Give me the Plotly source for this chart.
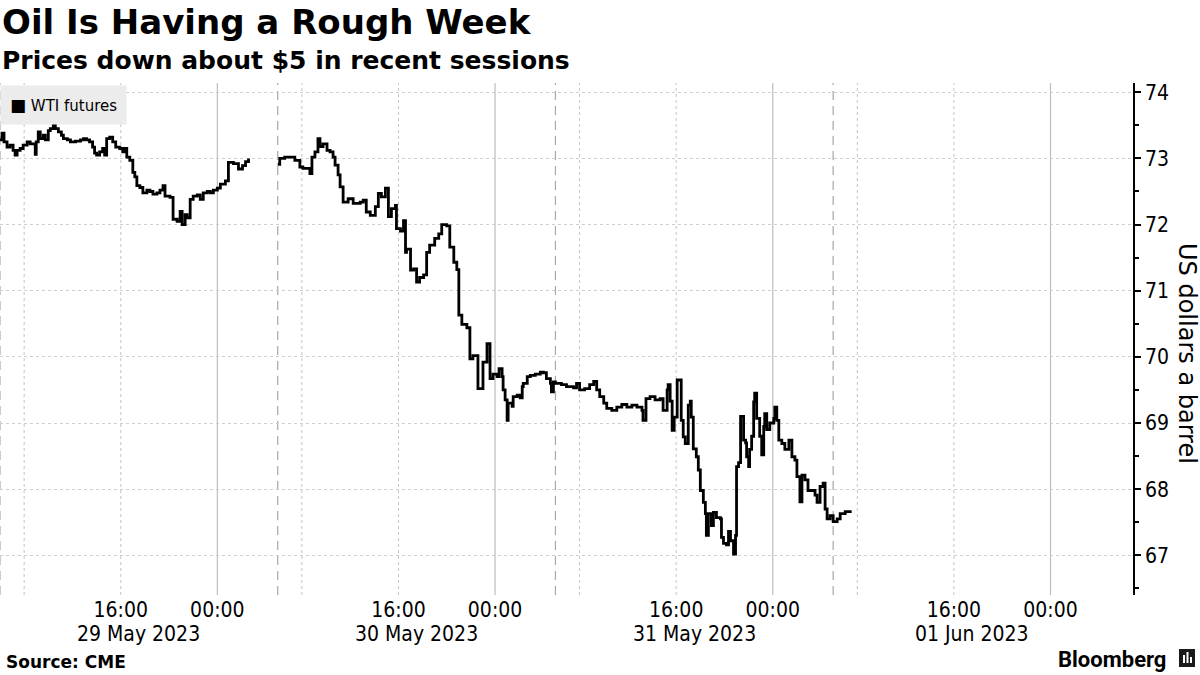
import pandas as pd
import plotly.graph_objects as go

# ---------------- data ----------------
# Trading sessions (Hong Kong time), each opening at 06:00 and running 23 hours
session_dates = ["2023-05-29", "2023-05-30", "2023-05-31", "2023-06-01"]
date_labels = ["29 May 2023", "30 May 2023", "31 May 2023", "01 Jun 2023"]

# minutes after session open, WTI futures price (USD/bbl)
s1_minutes = [0, 10, 20, 35, 50, 65, 75, 85, 100, 115, 135, 150, 165, 175, 180, 190, 200, 215,
              225, 240, 250, 265, 275, 290, 305, 315, 335, 350, 375, 400, 415, 430, 445, 460,
              470, 480, 495, 510, 520, 530, 545, 560, 575, 595, 610, 620, 630, 645, 660, 670,
              680, 695, 710, 730, 745, 760, 780, 795, 810, 820, 845, 860, 880, 895, 905, 920,
              930, 945, 960, 980, 995, 1010, 1030, 1045, 1060, 1080, 1095, 1120, 1135, 1160,
              1185, 1205, 1220, 1235]
s1_price = [73.28, 73.38, 73.25, 73.17, 73.20, 73.12, 73.05, 73.12, 73.15, 73.20, 73.25, 73.22,
            73.22, 73.06, 73.25, 73.40, 73.30, 73.35, 73.28, 73.42, 73.45, 73.50, 73.45, 73.40,
            73.35, 73.30, 73.28, 73.25, 73.26, 73.28, 73.30, 73.28, 73.25, 73.17, 73.08, 73.05,
            73.10, 73.15, 73.05, 73.30, 73.32, 73.25, 73.17, 73.15, 73.10, 73.15, 73.02, 72.97,
            72.79, 72.72, 72.59, 72.56, 72.48, 72.52, 72.50, 72.46, 72.48, 72.52, 72.59, 72.43,
            72.41, 72.08, 72.05, 72.20, 72.00, 72.15, 72.10, 72.38, 72.43, 72.45, 72.38, 72.48,
            72.50, 72.48, 72.52, 72.55, 72.61, 72.66, 72.94, 72.92, 72.84, 72.89, 72.95, 73.00]

s2_minutes = [0, 10, 35, 60, 85, 110, 125, 145, 160, 170, 185, 200, 210, 225, 245, 260, 275,
              285, 300, 310, 325, 350, 375, 390, 410, 425, 440, 460, 485, 500, 515, 535, 550,
              565, 585, 590, 610, 625, 635, 640, 660, 675, 690, 705, 725, 740, 755, 780, 800,
              815, 840, 855, 875, 890, 900, 915, 940, 955, 970, 995, 1020, 1040, 1055, 1070,
              1090, 1100, 1115, 1120, 1130, 1140, 1145, 1165, 1170, 1190, 1205, 1215, 1220,
              1240, 1255, 1280, 1305, 1320, 1335, 1355, 1360, 1370]
s2_price = [72.91, 73.00, 73.02, 73.02, 72.97, 72.87, 72.85, 72.85, 72.77, 73.02, 73.10, 73.30,
            73.18, 73.22, 73.12, 73.10, 73.02, 72.90, 72.75, 72.57, 72.34, 72.39, 72.32, 72.32,
            72.34, 72.37, 72.19, 72.14, 72.27, 72.47, 72.42, 72.55, 72.12, 72.24, 72.29, 71.94,
            71.90, 72.06, 71.58, 71.63, 71.31, 71.33, 71.13, 71.20, 71.24, 71.58, 71.69, 71.79,
            71.86, 72.00, 71.98, 71.66, 71.43, 71.32, 70.63, 70.49, 70.44, 69.97, 70.02, 69.52,
            69.92, 70.20, 69.67, 69.74, 69.70, 69.82, 69.70, 69.50, 69.35, 69.04, 69.30, 69.25,
            69.40, 69.42, 69.38, 69.55, 69.60, 69.70, 69.72, 69.74, 69.77, 69.76, 69.67, 69.60,
            69.47, 69.62]

s3_minutes = [0, 5, 30, 55, 90, 105, 120, 145, 170, 190, 205, 220, 240, 255, 280, 305, 330,
              355, 380, 405, 430, 435, 450, 470, 495, 520, 535, 555, 560, 570, 580, 590, 605,
              615, 625, 635, 645, 660, 670, 675, 685, 700, 710, 720, 735, 745, 750, 760, 775,
              785, 800, 820, 825, 835, 850, 860, 870, 885, 895, 900, 910, 920, 925, 935, 945,
              950, 960, 965, 975, 985, 990, 1000, 1015, 1025, 1035, 1040, 1050, 1065, 1085,
              1090, 1100, 1110, 1125, 1140, 1160, 1175, 1190, 1200, 1215, 1225, 1240, 1255,
              1275, 1290, 1300, 1315, 1330, 1340, 1350, 1365]
s3_price = [69.60, 69.60, 69.58, 69.55, 69.53, 69.60, 69.50, 69.52, 69.58, 69.63, 69.50, 69.40,
            69.30, 69.22, 69.19, 69.24, 69.28, 69.24, 69.27, 69.24, 69.19, 69.04, 69.37, 69.40,
            69.35, 69.37, 69.19, 69.50, 69.58, 69.33, 68.89, 69.09, 69.65, 69.65, 69.04, 68.79,
            68.69, 69.27, 69.33, 69.09, 68.61, 68.49, 68.29, 67.98, 67.80, 67.63, 67.30, 67.63,
            67.45, 67.65, 67.57, 67.55, 67.27, 67.18, 67.16, 67.36, 67.22, 67.02, 67.30, 68.34,
            68.40, 69.10, 69.10, 68.74, 68.70, 68.49, 68.34, 68.60, 68.80, 69.32, 69.45, 69.07,
            68.80, 68.52, 68.95, 69.14, 68.90, 69.00, 69.07, 69.24, 69.04, 68.74, 68.69, 68.60,
            68.74, 68.49, 68.44, 68.19, 67.81, 68.21, 68.14, 67.98, 67.98, 67.91, 67.80, 68.04,
            68.09, 67.70, 67.55, 67.60]

s4_minutes = [0, 20, 35, 60, 85]
s4_price = [67.51, 67.55, 67.63, 67.66, 67.68]

series_name = "WTI futures"
y_axis_title = "US dollars a barrel"
title = "Oil Is Having a Rough Week"
subtitle = "Prices down about $5 in recent sessions"
source = "Source: CME"

# ---------------- build series ----------------
sessions = [(s1_minutes, s1_price), (s2_minutes, s2_price), (s3_minutes, s3_price), (s4_minutes, s4_price)]
xs, ys = [], []
for i, (d, (mins, prices)) in enumerate(zip(session_dates, sessions)):
    open_t = pd.Timestamp(d) + pd.Timedelta(hours=6)
    if i == 1:  # holiday-shortened first session: gap before next open
        xs.append(None)
        ys.append(None)
    for m, p in zip(mins, prices):
        xs.append(open_t + pd.Timedelta(minutes=m))
        ys.append(p)

FONT = "DejaVu Sans Condensed, DejaVu Sans, sans-serif"
TFONT = "DejaVu Sans, sans-serif"

fig = go.Figure()
fig.add_trace(go.Scatter(x=xs, y=ys, mode="lines", line=dict(color="black", width=2.8, shape="hv"),
                         name=series_name, showlegend=False, connectgaps=False))

opens = [pd.Timestamp(d) + pd.Timedelta(hours=6) for d in session_dates]
x_start = opens[0]
x_end = opens[-1] + pd.Timedelta(hours=24) + pd.Timedelta(minutes=110)

tickvals, ticktext = [], []
shapes = []
for o in opens:
    day = o.normalize()
    t08 = day + pd.Timedelta(hours=8)
    t16 = day + pd.Timedelta(hours=16)
    t00 = day + pd.Timedelta(hours=24)
    tickvals += [t16, t00]
    ticktext += ["16:00", "00:00"]
    for t in (t08, t16):
        shapes.append(dict(type="line", xref="x", yref="paper", x0=t, x1=t, y0=0, y1=1,
                           line=dict(color="#c4c4c4", width=1, dash="dot"), layer="below"))
    shapes.append(dict(type="line", xref="x", yref="paper", x0=t00, x1=t00, y0=0, y1=1,
                       line=dict(color="#bdbdbd", width=1.2), layer="below"))
    shapes.append(dict(type="line", xref="x", yref="paper", x0=o, x1=o, y0=0, y1=1,
                       line=dict(color="#a8a8a8", width=1.2, dash="9px,6px"), layer="below"))

PLOT_TOP, PLOT_BOT, PLOT_RIGHT = 83, 595, 1133


def py(ypx):
    return (PLOT_BOT - ypx) / (PLOT_BOT - PLOT_TOP)


def px(xpx):
    return xpx / PLOT_RIGHT


annotations = [
    dict(text=f"<b>{title}</b>", x=px(0), y=py(22), xref="paper", yref="paper", xanchor="left",
         yanchor="middle", showarrow=False, font=dict(family=TFONT, size=34, color="black")),
    dict(text=f"<b>{subtitle}</b>", x=px(0), y=py(60), xref="paper", yref="paper", xanchor="left",
         yanchor="middle", showarrow=False, font=dict(family=TFONT, size=25, color="black")),
    dict(text=f"<b>{source}</b>", x=px(4), y=py(662), xref="paper", yref="paper", xanchor="left",
         yanchor="middle", showarrow=False, font=dict(family=TFONT, size=17, color="black")),
    dict(text="<b>Bloomberg</b>", x=px(1168), y=py(659), xref="paper", yref="paper", xanchor="right",
         yanchor="middle", showarrow=False, font=dict(family="Roboto, sans-serif", size=22, color="black")),
    dict(text=y_axis_title, x=px(1187), y=py(353), xref="paper", yref="paper", xanchor="center",
         yanchor="middle", textangle=90, showarrow=False, font=dict(family=TFONT, size=24, color="black")),
    dict(text="<span style='font-size:17px'>■</span> " + series_name, x=px(0), y=py(85), xref="paper",
         yref="paper", xanchor="left", yanchor="top", showarrow=False, bgcolor="#ececec",
         borderpad=9, font=dict(family=TFONT, size=15, color="black")),
]
for o, lab in zip(opens, date_labels):
    mid = o + pd.Timedelta(hours=11, minutes=30)
    annotations.append(dict(text=lab, x=mid, y=py(634), xref="x", yref="paper", xanchor="center",
                            yanchor="middle", showarrow=False, font=dict(family=FONT, size=21, color="black")))

# Bloomberg mark
shapes.append(dict(type="rect", xref="paper", yref="paper", x0=px(1179), x1=px(1195), y0=py(667), y1=py(649),
                   fillcolor="#1a1a1a", line=dict(width=0)))
for bx, top in ((1183, 655), (1186.5, 652), (1190, 657)):
    shapes.append(dict(type="rect", xref="paper", yref="paper", x0=px(bx), x1=px(bx + 2), y0=py(663), y1=py(top),
                       fillcolor="white", line=dict(width=0)))

fig.update_layout(
    width=1200, height=675,
    margin=dict(l=0, r=1200 - PLOT_RIGHT, t=PLOT_TOP, b=675 - PLOT_BOT),
    paper_bgcolor="white", plot_bgcolor="white",
    font=dict(family=FONT, color="black"),
    showlegend=False,
    shapes=shapes,
    annotations=annotations,
    xaxis=dict(type="date", range=[x_start, x_end],
               rangebreaks=[dict(bounds=[5, 6], pattern="hour")],
               tickmode="array", tickvals=tickvals, ticktext=ticktext,
               showgrid=False, zeroline=False, showline=False, ticks="",
               tickfont=dict(family=FONT, size=21, color="black")),
    yaxis=dict(side="right", range=[66.4, 74.14], tick0=67, dtick=1,
               showgrid=True, gridcolor="#cfcfcf", griddash="dot", gridwidth=1,
               zeroline=False, showline=True, linecolor="black", linewidth=1.5,
               ticks="outside", ticklen=6, tickwidth=2, tickcolor="black",
               minor=dict(dtick=0.5, tick0=66.5, ticks="outside", ticklen=4, tickcolor="black", showgrid=False),
               tickfont=dict(family=FONT, size=21, color="black")),
)

fig.write_html("out.html", config={"displayModeBar": False},
               post_script="document.body.style.margin='0';document.body.style.padding='0';"
                           "document.documentElement.style.overflow='hidden';")
